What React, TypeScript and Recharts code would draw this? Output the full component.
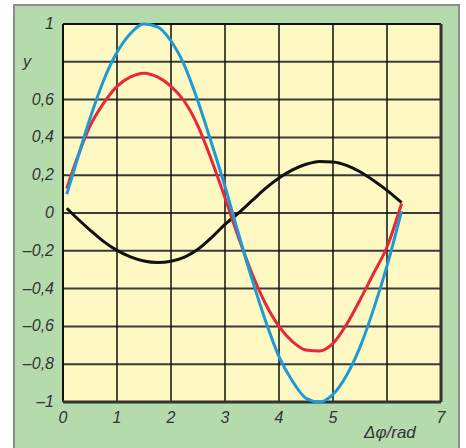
import { LineChart, Line, XAxis, YAxis, CartesianGrid, ReferenceLine } from 'recharts';

const phase = [0.07, 0.25, 0.5, 0.75, 1, 1.25, 1.5, 1.75, 2, 2.25, 2.5, 2.75, 3, 3.25, 3.5, 3.75, 4, 4.25, 4.5, 4.75, 5, 5.25, 5.5, 5.75, 6, 6.27];
const blue = [0.1, 0.27, 0.5, 0.7, 0.85, 0.95, 1.0, 0.985, 0.91, 0.78, 0.59, 0.37, 0.14, -0.11, -0.35, -0.57, -0.76, -0.89, -0.98, -1.0, -0.96, -0.86, -0.71, -0.51, -0.28, 0.01];
const red = [0.13, 0.28, 0.46, 0.58, 0.67, 0.72, 0.74, 0.72, 0.67, 0.59, 0.46, 0.28, 0.08, -0.13, -0.32, -0.48, -0.6, -0.68, -0.725, -0.73, -0.69, -0.59, -0.46, -0.32, -0.18, 0.05];
const black = [0.025, -0.025, -0.09, -0.15, -0.198, -0.232, -0.254, -0.262, -0.255, -0.233, -0.192, -0.13, -0.06, 0.0, 0.065, 0.13, 0.185, 0.228, 0.258, 0.273, 0.27, 0.252, 0.218, 0.172, 0.12, 0.055];

const xTicks = [0, 1, 2, 3, 4, 5, 6, 7];
const yTicks = [-1, -0.8, -0.6, -0.4, -0.2, 0, 0.2, 0.4, 0.6, 0.8, 1];

const data = phase.map((x, i) => ({ x, blue: blue[i], red: red[i], black: black[i] }));

const font = { fontFamily: '"Liberation Sans", Arial, sans-serif', fontStyle: 'italic' as const, fontSize: 16, fill: '#333' };

function fmt(v: number) {
  if (v === 0) return '0';
  const s = Math.abs(v).toFixed(1).replace('.', ',').replace(/,0$/, '');
  return v < 0 ? '–' + s : s;
}

function YTick(props: any) {
  const { x, y, payload } = props;
  const v = payload.value;
  if (Math.abs(v - 0.8) < 1e-6) {
    return <text x={x - 27} y={y} dy={5} textAnchor="middle" {...font}>y</text>;
  }
  return <text x={x} y={y} dy={5} textAnchor="end" {...font}>{fmt(v)}</text>;
}

function XTick(props: any) {
  const { x, y, payload } = props;
  if (payload.value === 6) return <g />;
  return <text x={x} y={y} dy={12} textAnchor="middle" {...font}>{payload.value}</text>;
}

export default function App() {
  return (
    <div style={{ position: 'absolute', left: 0, top: 0, width: 466, height: 448, overflow: 'hidden', background: '#fff' }}>
      <div style={{ position: 'absolute', left: 13, top: 4, width: 443, height: 460, border: '2px solid #8c8c8c', background: '#b5dbad' }} />
      <div style={{ position: 'absolute', left: 0, top: 0 }}>
        <LineChart width={466} height={448} data={data} margin={{ top: 24, right: 25, bottom: 16, left: 13 }}>
          <CartesianGrid fill="#fef8c2" stroke="#3a3a3a" strokeWidth={2} vertical={false} horizontalValues={yTicks} />
          <CartesianGrid stroke="#111" strokeWidth={1.5} horizontal={false} verticalValues={xTicks} />
          <XAxis dataKey="x" type="number" domain={[0, 7]} ticks={xTicks} tickLine={false} axisLine={false} tick={<XTick />} tickMargin={3} height={30} />
          <YAxis type="number" domain={[-1, 1]} ticks={yTicks} tickLine={false} axisLine={false} tick={<YTick />} tickMargin={3} width={50} />
          <ReferenceLine x={0} stroke="#111" strokeWidth={2} />
          <ReferenceLine y={1} stroke="#111" strokeWidth={2} />
          <ReferenceLine x={7} stroke="#333" strokeWidth={3} />
          <ReferenceLine y={-1} stroke="#333" strokeWidth={3} />
          <Line type="monotone" dataKey="black" stroke="#111" strokeWidth={3} dot={false} isAnimationActive={false} />
          <Line type="monotone" dataKey="red" stroke="#e8283a" strokeWidth={3} dot={false} isAnimationActive={false} />
          <Line type="monotone" dataKey="blue" stroke="#1e9ad6" strokeWidth={3} dot={false} isAnimationActive={false} />
        </LineChart>
      </div>
      <div style={{ position: 'absolute', left: 364, top: 423, fontFamily: '"Liberation Sans", Arial, sans-serif', fontStyle: 'italic', fontSize: 17, color: '#333', lineHeight: '20px' }}>
        Δφ/rad
      </div>
    </div>
  );
}
